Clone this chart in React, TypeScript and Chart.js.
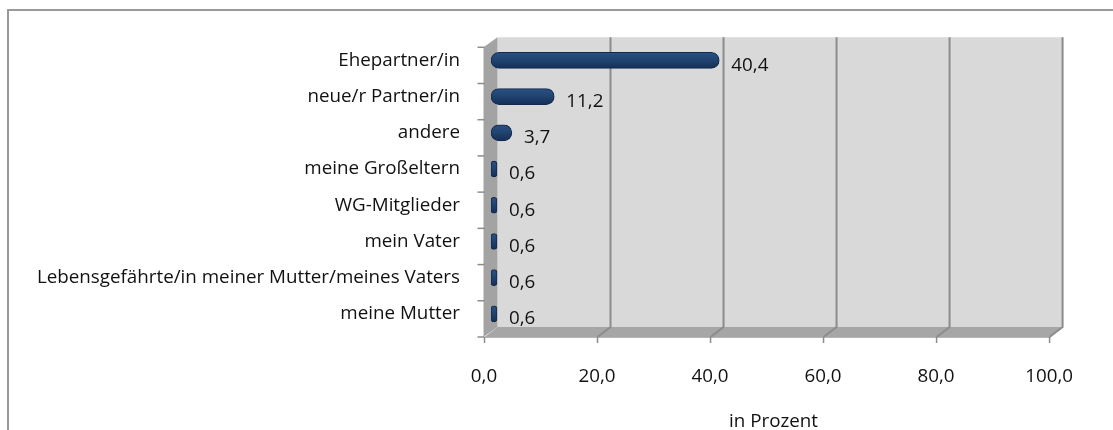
import React, { useEffect, useRef } from "react";
import { Chart, registerables } from "chart.js";

Chart.register(...registerables);

const categories = [
  "Ehepartner/in",
  "neue/r Partner/in",
  "andere",
  "meine Großeltern",
  "WG-Mitglieder",
  "mein Vater",
  "Lebensgefährte/in meiner Mutter/meines Vaters",
  "meine Mutter",
];
const values = [40.4, 11.2, 3.7, 0.6, 0.6, 0.6, 0.6, 0.6];
const xMin = 0;
const xMax = 100;
const xStep = 20;
const axisTitle = "in Prozent";

const FONT = "'Open Sans', 'DejaVu Sans', sans-serif";
const FONT_SIZE = 18.8;
const DX = 6.5;
const DY = 5;

const fmt = (v: number) => v.toFixed(1).replace(".", ",");

const wallPlugin = {
  id: "wall3d",
  beforeDraw(chart: any) {
    const ctx = chart.ctx;
    ctx.save();
    ctx.strokeStyle = "#9a9a9a";
    ctx.lineWidth = 2;
    ctx.beginPath();
    ctx.moveTo(8, chart.height);
    ctx.lineTo(8, 10);
    ctx.lineTo(chart.width, 10);
    ctx.stroke();
    ctx.restore();
  },
  beforeDatasetsDraw(chart: any) {
    const { ctx, chartArea } = chart;
    const { top, bottom } = chartArea;
    const x = chart.scales.x;
    const x0 = x.getPixelForValue(xMin);
    const x1 = x.getPixelForValue(xMax);
    ctx.save();
    // back wall
    ctx.fillStyle = "#d9d9d9";
    ctx.fillRect(x0 + DX, top - DY, x1 - x0, bottom - top);
    // floor
    ctx.fillStyle = "#a6a6a6";
    ctx.beginPath();
    ctx.moveTo(x0 + DX, bottom - DY);
    ctx.lineTo(x1 + DX, bottom - DY);
    ctx.lineTo(x1 - DX, bottom + DY);
    ctx.lineTo(x0 - DX, bottom + DY);
    ctx.closePath();
    ctx.fill();
    // left wall
    ctx.fillStyle = "#a3a3a3";
    ctx.beginPath();
    ctx.moveTo(x0 + DX, top - DY);
    ctx.lineTo(x0 + DX, bottom - DY);
    ctx.lineTo(x0 - DX - 1, bottom + DY);
    ctx.lineTo(x0 - DX - 1, top + DY);
    ctx.closePath();
    ctx.fill();
    // gridlines on back wall and floor
    ctx.strokeStyle = "#8c8c8c";
    ctx.lineWidth = 2;
    x.ticks.forEach((t: any) => {
      const px = x.getPixelForValue(t.value);
      if (t.value === xMin) return;
      ctx.beginPath();
      ctx.moveTo(px + DX, top - DY);
      ctx.lineTo(px + DX, bottom - DY);
      ctx.lineTo(px - DX, bottom + DY);
      ctx.stroke();
    });
    // floor front edge
    ctx.strokeStyle = "#b4b4b4";
    ctx.lineWidth = 1;
    ctx.beginPath();
    ctx.moveTo(x0 - DX, bottom + DY + 0.5);
    ctx.lineTo(x1 - DX, bottom + DY + 0.5);
    ctx.stroke();
    // x tick marks
    ctx.strokeStyle = "#8c8c8c";
    ctx.lineWidth = 1.5;
    x.ticks.forEach((t: any) => {
      const px = x.getPixelForValue(t.value) - DX;
      ctx.beginPath();
      ctx.moveTo(px, bottom + DY);
      ctx.lineTo(px, bottom + DY + 6);
      ctx.stroke();
    });
    // category tick marks
    const band = (bottom - top) / categories.length;
    for (let i = 0; i <= categories.length; i++) {
      const py = top + i * band + DY;
      ctx.beginPath();
      ctx.moveTo(x0 - DX - 7, py);
      ctx.lineTo(x0 - DX, py);
      ctx.stroke();
    }
    ctx.restore();
  },
  afterDatasetsDraw(chart: any) {
    const { ctx } = chart;
    const meta = chart.getDatasetMeta(0);
    ctx.save();
    ctx.fillStyle = "#111111";
    ctx.font = `${FONT_SIZE}px ${FONT}`;
    ctx.textAlign = "left";
    ctx.textBaseline = "middle";
    meta.data.forEach((bar: any, i: number) => {
      ctx.fillText(fmt(values[i]), bar.x + 12, bar.y + 5);
    });
    ctx.restore();
  },
};

export default function App() {
  const ref = useRef<HTMLCanvasElement>(null);
  useEffect(() => {
    if (!ref.current) return;
    const chart = new Chart(ref.current, {
      type: "bar",
      data: {
        labels: categories,
        datasets: [
          {
            data: values,
            backgroundColor: (c: any) => {
              const ch = c.chart;
              const ys = ch.scales?.y;
              if (!ys || c.dataIndex === undefined) return "#1f3f6f";
              const cy = ys.getPixelForValue(c.dataIndex);
              if (!Number.isFinite(cy)) return "#1f3f6f";
              const g = ch.ctx.createLinearGradient(0, cy - 8, 0, cy + 8);
              g.addColorStop(0, "#2a4f82");
              g.addColorStop(0.35, "#234876");
              g.addColorStop(1, "#152f57");
              return g;
            },
            borderColor: "#142a4c",
            borderWidth: 1,
            borderRadius: 8,
            borderSkipped: false,
            barThickness: 16,
            minBarLength: 6,
          },
        ],
      },
      options: {
        indexAxis: "y",
        responsive: false,
        animation: false,
        devicePixelRatio: 1,
        layout: { padding: { top: 38, right: 56, left: 0, bottom: 0 } },
        plugins: {
          legend: { display: false },
          tooltip: { enabled: false },
        },
        scales: {
          x: {
            min: xMin,
            max: xMax,
            grid: { display: false, drawTicks: false },
            border: { display: false },
            ticks: {
              stepSize: xStep,
              callback: (v: any) => fmt(Number(v)),
              labelOffset: -7,
              padding: 33,
              color: "#111111",
              font: { family: FONT, size: FONT_SIZE },
              maxRotation: 0,
            },
            title: {
              display: true,
              text: axisTitle,
              color: "#111111",
              font: { family: FONT, size: FONT_SIZE },
              padding: { top: 0, bottom: -3 },
            },
            afterFit: (s: any) => {
              s.height = 98;
            },
          },
          y: {
            grid: { display: false, drawTicks: false },
            border: { display: false },
            ticks: {
              padding: 31,
              color: "#111111",
              font: { family: FONT, size: FONT_SIZE },
              autoSkip: false,
            },
            afterFit: (s: any) => {
              s.width = 491;
            },
          },
        },
      },
      plugins: [wallPlugin],
    });
    return () => chart.destroy();
  }, []);
  return (
    <div style={{ position: "absolute", left: 0, top: 0, width: 1113, height: 430, background: "#ffffff" }}>
      <canvas ref={ref} width={1113} height={430} style={{ display: "block" }} />
    </div>
  );
}
